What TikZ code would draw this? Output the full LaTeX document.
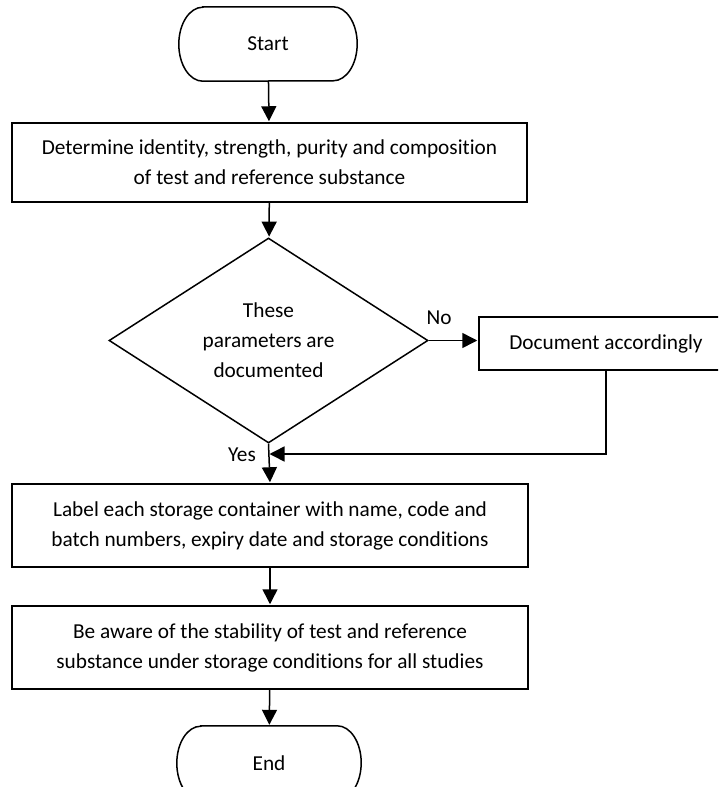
\documentclass[tikz,border=0pt]{standalone}
\usepackage{fontspec}
\setmainfont{Carlito}[Ligatures={NoCommon}]
\usetikzlibrary{arrows.meta,shapes.geometric}
\begin{document}
\begin{tikzpicture}[x=1pt,y=-1pt,
  every node/.style={font=\fontsize{21.3pt}{30pt}\selectfont, align=center, inner sep=0pt},
  box/.style={draw, line width=1.5pt, rectangle},
  termshape/.style={minimum height=74pt},
  decide/.style={draw, line width=1.5pt, diamond, aspect=1.556, minimum width=319pt, minimum height=205pt},
  arr/.style={line width=1.5pt, -{Triangle[length=15pt,width=15pt]}, shorten >=1pt},
  lin/.style={line width=1.5pt}]
\useasboundingbox (0,0) rectangle (718,787);
\clip (0,0) rectangle (718,787);
% terminals
\node[termshape, minimum width=178pt] (start) at (268,44) {Start};
\node[termshape, minimum width=184pt] (end) at (269,763) {End};
\foreach \t in {start,end}{
  \draw[lin] ([xshift=24pt]\t.north west) -- ([xshift=-24pt]\t.north east)
    arc[start angle=90,end angle=-90,x radius=24pt,y radius=37pt]
    -- ([xshift=24pt]\t.south west)
    arc[start angle=270,end angle=90,x radius=24pt,y radius=37pt] -- cycle;
}
% boxes
\node[box, minimum width=515pt, minimum height=79pt] (b1) at (269.5,162.5)
  {Determine identity, strength, purity and composition\\of test and reference substance};
\node[decide] (dec) at (268.5,340.5) {These\\parameters are\\documented};
\node[box, minimum width=254pt, minimum height=53pt] (doc) at (606,343.5) {Document accordingly};
\node[box, minimum width=516pt, minimum height=83pt] (b3) at (270,525.5)
  {Label each storage container with name, code and\\batch numbers, expiry date and storage conditions};
\node[box, minimum width=516pt, minimum height=83pt] (b4) at (270,647.5)
  {Be aware of the stability of test and reference\\substance under storage conditions for all studies};
% labels
\node (no) at (439,318) {No};
\node (yes) at (242,455) {Yes};
\coordinate (join) at (268.5,454);
% connectors
\draw[arr] (start) -- (b1);
\draw[arr] (b1) -- (dec);
\draw[arr] (dec.east) -- (dec.east -| doc.west);
\draw[arr] (doc.south) |- (join);
\draw[arr] (dec.south) -- (b3.north);
\draw[arr] (b3) -- (b4);
\draw[arr] (b4) -- (end);
\end{tikzpicture}
\end{document}
